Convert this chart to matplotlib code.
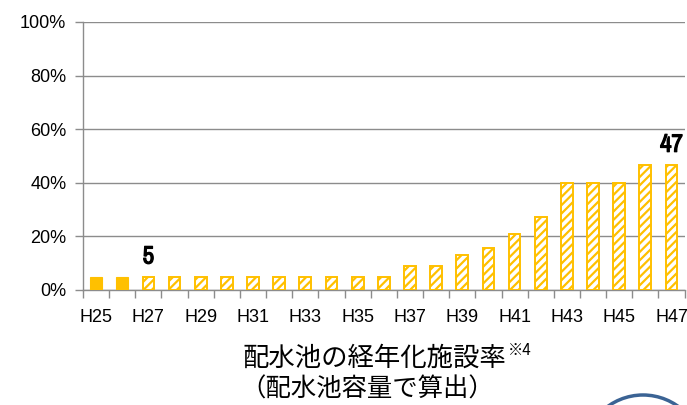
import matplotlib
matplotlib.use("Agg")
import matplotlib.pyplot as plt
from matplotlib.patches import Circle
from matplotlib import font_manager
import matplotlib.patheffects as pe
import numpy as np

plt.rcParams['font.family'] = ['Liberation Sans', 'Noto Sans CJK JP', 'DejaVu Sans']
plt.rcParams['hatch.linewidth'] = 1.6

categories = ["H%d" % y for y in range(25, 48)]
values = [5, 5, 5, 5, 5, 5, 5, 5, 5, 5, 5, 5, 8.8, 8.8, 13.2, 15.8, 20.9, 27.4, 40, 40, 40, 46.7, 46.7]
actual_count = 2  # H25, H26 solid (actual); rest hatched (forecast)
label_values = {"H27": "5", "H47": "47"}
title_line1 = "配水池の経年化施設率"
title_sup = "※4"
title_line2 = "（配水池容量で算出）"

yellow = "#FFC000"
grid_gray = "#8C8C8C"

narrow = None
for f in font_manager.fontManager.ttflist:
    if "Narrow" in f.name or "Condensed" in f.name:
        narrow = f.name
        break

fig = plt.figure(figsize=(6.87, 4.05), dpi=100)
ax = fig.add_axes([83/687, 1-290/405, (684.6-83)/687, (290-22)/405])

x = np.arange(len(categories))
for i, (xi, v) in enumerate(zip(x, values)):
    if i < actual_count:
        ax.bar(xi, v, width=0.45, color=yellow, edgecolor=yellow, linewidth=0.8, zorder=3)
    else:
        ax.bar(xi, v, width=0.45, facecolor="white", edgecolor=yellow, hatch="////",
               linewidth=1.4, zorder=3)

for i, c in enumerate(categories):
    if c in label_values:
        if narrow:
            kw = dict(family=[narrow, 'DejaVu Sans'])
        else:
            kw = dict(family=['DejaVu Sans'], fontstretch='condensed')
        ax.text(x[i], values[i] + 3.4, label_values[c], ha="center", va="bottom",
                fontsize=18, fontweight="bold", color="black",
                path_effects=[pe.withStroke(linewidth=0.9, foreground="black")], **kw)

ax.set_xlim(-0.5, len(categories) - 0.5)
ax.set_ylim(0, 100)
ax.set_yticks(np.arange(0, 101, 20))
ax.set_yticklabels(["%d%%" % t for t in range(0, 101, 20)], fontsize=13)
ax.yaxis.grid(True, color=grid_gray, linewidth=1.0, zorder=0)
ax.tick_params(axis="y", length=6, color=grid_gray, width=1.0, pad=6)

ax.set_xticks(x[::2])
ax.set_xticklabels(categories[::2], fontsize=13)
ax.set_xticks(np.arange(-0.5, len(categories), 1), minor=True)
ax.tick_params(axis="x", which="major", length=0, pad=14)
ax.tick_params(axis="x", which="minor", length=6, color=grid_gray, width=1.0)

for s in ["top", "right"]:
    ax.spines[s].set_visible(False)
for s in ["left", "bottom"]:
    ax.spines[s].set_color(grid_gray)
    ax.spines[s].set_linewidth(1.0)

t1 = fig.text(243/687, 1-358/405, title_line1, fontsize=19, family=['Noto Sans CJK JP'],
              ha="left", va="center")
fig.text(240/687, 1-390/405, title_line2, fontsize=18.3, family=['Noto Sans CJK JP'],
         ha="left", va="center")
fig.canvas.draw()
bb = t1.get_window_extent()
fig.text((bb.x1 + 1)/687, 1-350/405, title_sup, fontsize=11, family=['Noto Sans CJK JP'],
         ha="left", va="center")

circ = Circle((643, 405-455), 60, transform=None, fill=False, edgecolor="#3B6394",
              linewidth=2.5)
fig.patches.append(circ)

fig.savefig("out.png", dpi=100)
